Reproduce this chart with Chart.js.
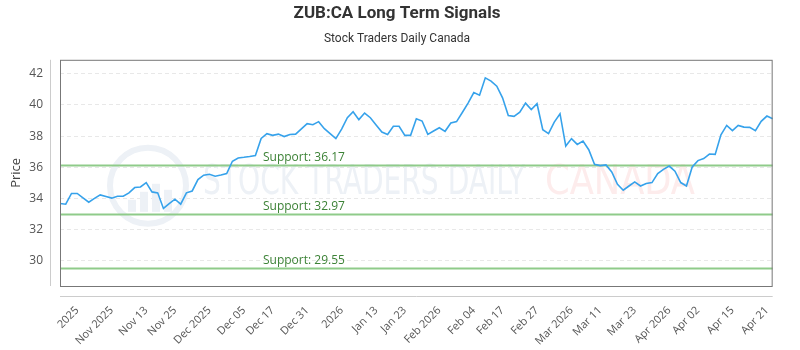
<!DOCTYPE html>
<html>
<head>
<meta charset="utf-8">
<script src="https://cdn.jsdelivr.net/npm/chart.js@4.4.1/dist/chart.umd.min.js"></script>
<style>
  html, body { margin: 0; padding: 0; background: #fff; }
</style>
</head>
<body>
<canvas id="signalChart" width="800" height="350"></canvas>
<script>
// ZUB:CA closing prices
const prices = [
  33.68, 33.63, 34.32, 34.32, 34.04, 33.76, 34.00, 34.23, 34.13, 34.02,
  34.14, 34.14, 34.36, 34.70, 34.74, 35.02, 34.42, 34.36, 33.36, 33.66,
  33.95, 33.63, 34.36, 34.48, 35.21, 35.49, 35.55, 35.43, 35.51, 35.60,
  36.39, 36.60, 36.64, 36.69, 36.75, 37.85, 38.16, 38.05, 38.13, 37.97,
  38.11, 38.13, 38.47, 38.80, 38.73, 38.93, 38.48, 38.16, 37.84, 38.45,
  39.18, 39.57, 39.06, 39.48, 39.18, 38.72, 38.26, 38.11, 38.63, 38.63,
  38.05, 38.05, 39.12, 38.97, 38.11, 38.33, 38.54, 38.31, 38.84, 38.93,
  39.52, 40.12, 40.80, 40.63, 41.74, 41.53, 41.21, 40.46, 39.33, 39.27,
  39.54, 40.12, 39.70, 40.08, 38.41, 38.16, 38.90, 39.44, 37.36, 37.84,
  37.47, 37.69, 37.13, 36.19, 36.11, 36.15, 35.70, 34.91, 34.53, 34.80,
  35.06, 34.80, 34.96, 35.02, 35.60, 35.87, 36.08, 35.75, 35.02, 34.80,
  36.02, 36.43, 36.56, 36.85, 36.83, 38.09, 38.69, 38.35, 38.69, 38.58,
  38.56, 38.35, 38.95, 39.29, 39.12
];

// date labels shown on the x axis and the point each one sits on
const tickLabels = ['2025', 'Nov 2025', 'Nov 13', 'Nov 25', 'Dec 2025', 'Dec 05', 'Dec 17', 'Dec 31',
  '2026', 'Jan 13', 'Jan 23', 'Feb 2026', 'Feb 04', 'Feb 17', 'Feb 27', 'Mar 2026', 'Mar 11',
  'Mar 23', 'Apr 2026', 'Apr 02', 'Apr 15', 'Apr 21'];
const tickAt = [3, 9, 15, 20, 26, 32, 37, 43, 49, 55, 60, 66, 72, 77, 83, 89, 94, 100, 106, 111, 117, 123];

const supports = [36.17, 32.97, 29.55];
const yTicks = [30, 32, 34, 36, 38, 40, 42];

const labels = prices.map((_, i) => {
  const k = tickAt.indexOf(i);
  return k >= 0 ? tickLabels[k] : '';
});

// faint "Stock Traders Daily Canada" mark behind the data
const watermark = {
  id: 'watermark',
  beforeDatasetsDraw(chart) {
    const { ctx, chartArea: a } = chart;
    const cx = a.left + 88, cy = a.top + 126;
    ctx.save();
    ctx.strokeStyle = '#edf1f6';
    ctx.lineWidth = 6;
    ctx.beginPath();
    ctx.arc(cx, cy, 38, 0, Math.PI * 2);
    ctx.stroke();
    ctx.fillStyle = '#edf1f6';
    [[-20, 12], [-8, 20], [4, 28], [16, 22]].forEach(([dx, h]) => {
      ctx.fillRect(cx + dx, cy + 26 - h, 8, h);
    });
    ctx.font = '40px "Liberation Sans Narrow", "DejaVu Sans Condensed", sans-serif';
    ctx.textBaseline = 'middle';
    ctx.fillText('STOCK TRADERS DAILY', a.left + 143, a.top + 124, 322);
    ctx.fillStyle = '#fdecec';
    ctx.fillText('CANADA', a.left + 485, a.top + 124, 150);
    ctx.restore();
  }
};

// horizontal support levels with their labels
const supportLines = {
  id: 'supportLines',
  beforeDatasetsDraw(chart) {
    const { ctx, chartArea: a, scales: { y } } = chart;
    ctx.save();
    supports.forEach(v => {
      const py = Math.round(y.getPixelForValue(v)) + 0.5;
      ctx.strokeStyle = '#8fcb8a';
      ctx.lineWidth = 2;
      ctx.beginPath();
      ctx.moveTo(a.left, py);
      ctx.lineTo(a.right, py);
      ctx.stroke();
      ctx.fillStyle = '#3c8236';
      ctx.font = '12px "Open Sans", sans-serif';
      ctx.textBaseline = 'bottom';
      ctx.fillText('Support: ' + v.toFixed(2), a.left + 203, py - 2);
    });
    ctx.restore();
  }
};

// plot frame plus the detached axis lines
const frame = {
  id: 'frame',
  afterDraw(chart) {
    const { ctx, chartArea: a } = chart;
    ctx.save();
    ctx.lineWidth = 1;
    ctx.strokeStyle = '#777';
    ctx.strokeRect(a.left + 0.5, a.top + 0.5, a.right - a.left - 1, a.bottom - a.top);
    ctx.strokeStyle = '#ccc';
    ctx.beginPath();
    ctx.moveTo(a.left - 9.5, a.top);
    ctx.lineTo(a.left - 9.5, a.bottom);
    ctx.moveTo(a.left, a.bottom + 10.5);
    ctx.lineTo(a.right, a.bottom + 10.5);
    ctx.stroke();
    ctx.restore();
  }
};

new Chart(document.getElementById('signalChart'), {
  type: 'line',
  data: {
    labels: labels,
    datasets: [{
      label: 'ZUB:CA',
      data: prices,
      borderColor: '#36a2eb',
      borderWidth: 1.6,
      pointRadius: 0,
      tension: 0,
      fill: false
    }]
  },
  options: {
    responsive: false,
    animation: false,
    layout: { padding: { left: 4, right: 10, top: 0, bottom: 0 } },
    plugins: {
      legend: { display: false },
      tooltip: { enabled: false },
      title: {
        display: true,
        text: 'ZUB:CA Long Term Signals',
        color: '#333',
        font: { family: 'Roboto', size: 17, weight: 'bold' },
        padding: { top: 4, bottom: 7 }
      },
      subtitle: {
        display: true,
        text: 'Stock Traders Daily Canada',
        color: '#333',
        font: { family: 'Roboto', size: 12 },
        padding: { top: 0, bottom: 14 }
      }
    },
    scales: {
      x: {
        grid: { display: false, drawTicks: false },
        border: { display: false },
        afterFit(scale) { scale.height = 64; },
        ticks: {
          autoSkip: false,
          maxRotation: 45,
          minRotation: 45,
          padding: 18,
          color: '#555',
          font: { family: 'Open Sans', size: 11 }
        }
      },
      y: {
        min: 28.38,
        max: 42.9,
        afterBuildTicks(scale) { scale.ticks = yTicks.map(v => ({ value: v })); },
        afterFit(scale) { scale.width = 56; },
        grid: { color: '#e8e8e8', drawTicks: false },
        border: { display: false, dash: [4, 3] },
        ticks: {
          padding: 17,
          color: '#555',
          font: { family: 'Open Sans', size: 12 }
        },
        title: {
          display: true,
          text: 'Price',
          color: '#444',
          font: { family: 'Open Sans', size: 13 }
        }
      }
    }
  },
  plugins: [watermark, supportLines, frame]
});
</script>
</body>
</html>
